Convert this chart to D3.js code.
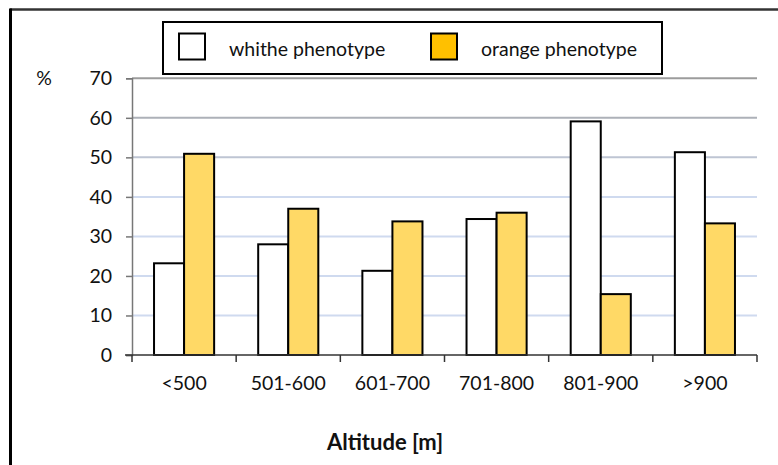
<!DOCTYPE html>
<html>
<head>
<meta charset="utf-8">
<script src="https://cdn.jsdelivr.net/npm/d3@7/dist/d3.min.js"></script>
<style>
  html, body { margin: 0; padding: 0; background: #fff; }
  svg { display: block; font-family: Lato, "Open Sans", sans-serif; }
</style>
</head>
<body>
<svg id="chart" width="778" height="465"></svg>
<script>
// Altitude classes and the share (%) of each phenotype
const categories = ["<500", "501-600", "601-700", "701-800", "801-900", ">900"];
const whiteValues = [23.2, 28.0, 21.3, 34.4, 59.1, 51.3];
const orangeValues = [50.9, 37.0, 33.8, 36.0, 15.4, 33.3];
const seriesNames = ["whithe phenotype", "orange phenotype"];
const yTicks = [0, 10, 20, 30, 40, 50, 60, 70];
const yLabel = "%";
const xTitle = "Altitude [m]";

const svg = d3.select("#chart");
const fontSize = 19.5;

// frame lines (top and left only)
svg.append("line").attr("x1", 10).attr("x2", 778).attr("y1", 9.5).attr("y2", 9.5)
  .attr("stroke", "#333").attr("stroke-width", 2.5);
svg.append("line").attr("x1", 10.5).attr("x2", 10.5).attr("y1", 8.5).attr("y2", 465)
  .attr("stroke", "#000").attr("stroke-width", 3);

const x = d3.scaleBand().domain(categories).range([132, 757])
  .paddingInner(0.423).paddingOuter(0.2115);
const xs = d3.scaleBand().domain(seriesNames).range([0, x.bandwidth()]);
const y = d3.scaleLinear().domain([0, 70]).range([355, 78.3]);

// gridlines shade from grey at the top to pale blue lower down
const gridColor = d3.scaleLinear().domain([40, 70]).range(["#cfdaef", "#9c9c9c"]).clamp(true);
svg.append("g").selectAll("line").data(yTicks.filter(d => d > 0)).join("line")
  .attr("x1", 132).attr("x2", 757)
  .attr("y1", d => y(d)).attr("y2", d => y(d))
  .attr("stroke", d => gridColor(d)).attr("stroke-width", 2);

// bars
const rows = categories.map((c, i) => ({ cat: c, vals: [whiteValues[i], orangeValues[i]] }));
const fills = ["#ffffff", "#ffd966"];
const groups = svg.append("g").selectAll("g").data(rows).join("g")
  .attr("transform", d => `translate(${x(d.cat)},0)`);
groups.selectAll("rect").data(d => d.vals.map((v, j) => ({ v, name: seriesNames[j], j }))).join("rect")
  .attr("x", d => xs(d.name))
  .attr("width", xs.bandwidth())
  .attr("y", d => y(d.v))
  .attr("height", d => y(0) - y(d.v))
  .attr("fill", d => fills[d.j])
  .attr("stroke", "#000").attr("stroke-width", 2);

// y axis
const yAxis = svg.append("g").attr("transform", "translate(132,0)")
  .call(d3.axisLeft(y).tickValues(yTicks).tickSize(6).tickPadding(14));
yAxis.select(".domain").attr("stroke", "#777").attr("stroke-width", 1.5);
yAxis.selectAll(".tick line").attr("stroke", "#777").attr("stroke-width", 1.5);
yAxis.selectAll("text").attr("font-size", fontSize).attr("fill", "#111")
  .attr("font-family", "Lato, 'Open Sans', sans-serif");

// x axis: ticks sit on category boundaries
const xAxisG = svg.append("g").attr("transform", `translate(0,${y(0)})`);
xAxisG.append("line").attr("x1", 125).attr("x2", 757).attr("stroke", "#333").attr("stroke-width", 1.5);
const bounds = d3.range(categories.length + 1).map(i => 132 + i * x.step());
xAxisG.selectAll(".btick").data(bounds).join("line").attr("class", "btick")
  .attr("x1", d => d).attr("x2", d => d).attr("y1", 0).attr("y2", 7)
  .attr("stroke", "#333").attr("stroke-width", 1.5);
xAxisG.selectAll(".xlab").data(categories).join("text").attr("class", "xlab")
  .attr("x", d => x(d) + x.bandwidth() / 2).attr("y", 35)
  .attr("text-anchor", "middle").attr("font-size", fontSize).attr("fill", "#111")
  .text(d => d);

// unit label and axis title
svg.append("text").attr("x", 44).attr("y", 85).attr("text-anchor", "middle")
  .attr("font-size", fontSize).attr("fill", "#111").text(yLabel);
svg.append("text").attr("x", 385).attr("y", 449.5).attr("text-anchor", "middle")
  .attr("font-size", 22).attr("font-weight", "bold").attr("fill", "#111").text(xTitle);

// legend
const legend = svg.append("g");
legend.append("rect").attr("x", 163).attr("y", 22).attr("width", 499).attr("height", 52)
  .attr("fill", "#fff").attr("stroke", "#000").attr("stroke-width", 2);
const legendFills = ["#ffffff", "#ffc000"];
const legendX = [179, 431];
const legendTextX = [229, 481];
seriesNames.forEach((name, i) => {
  legend.append("rect").attr("x", legendX[i]).attr("y", 33.5).attr("width", 26).attr("height", 26)
    .attr("fill", legendFills[i]).attr("stroke", "#000").attr("stroke-width", 2);
  legend.append("text").attr("x", legendTextX[i]).attr("y", 55.5)
    .attr("font-size", fontSize).attr("fill", "#111").text(name);
});
</script>
</body>
</html>
